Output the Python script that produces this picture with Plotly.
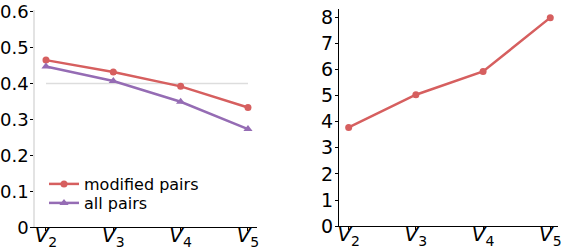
import plotly.graph_objects as go

categories = ["V2", "V3", "V4", "V5"]
tick_labels = ["<i>V</i><sub>2</sub>", "<i>V</i><sub>3</sub>", "<i>V</i><sub>4</sub>", "<i>V</i><sub>5</sub>"]
modified_pairs = [0.465, 0.432, 0.392, 0.333]
all_pairs = [0.447, 0.407, 0.349, 0.273]
reference_level = [0.4, 0.4, 0.4, 0.4]
right_values = [3.78, 5.03, 5.92, 7.98]
left_yticks = [0, 0.1, 0.2, 0.3, 0.4, 0.5, 0.6]
left_yticklabels = ["0", "0.1", "0.2", "0.3", "0.4", "0.5", "0.6"]
right_yticks = [0, 1, 2, 3, 4, 5, 6, 7, 8]

RED = "#d65f5f"
PURPLE = "#956cb4"
W, H = 562, 248
xs = list(range(len(categories)))

fig = go.Figure()
fig.add_trace(go.Scatter(x=xs, y=reference_level, mode="lines",
                         line=dict(color="#dddddd", width=1.5), showlegend=False,
                         xaxis="x", yaxis="y", hoverinfo="skip"))
fig.add_trace(go.Scatter(x=xs, y=modified_pairs, mode="lines+markers", name="modified pairs",
                         line=dict(color=RED, width=2.5), marker=dict(symbol="circle", size=7, color=RED),
                         xaxis="x", yaxis="y", legend="legend"))
fig.add_trace(go.Scatter(x=xs, y=all_pairs, mode="lines+markers", name="all pairs",
                         line=dict(color=PURPLE, width=2.5), marker=dict(symbol="triangle-up", size=8, color=PURPLE),
                         xaxis="x", yaxis="y", legend="legend2"))
fig.add_trace(go.Scatter(x=xs, y=right_values, mode="lines+markers", showlegend=False,
                         line=dict(color=RED, width=2.5), marker=dict(symbol="circle", size=7, color=RED),
                         xaxis="x2", yaxis="y2"))

yfont = dict(family="DejaVu Sans", size=18, color="black")
xfont = dict(family="DejaVu Sans", size=20, color="black")
lfont = dict(family="DejaVu Sans", size=16, color="black")
ydom = [1 - 227.2 / H, 1 - 10 / H]
ydom2 = [1 - 226.2 / H, 1 - 9 / H]

common = dict(showgrid=False, zeroline=False, ticks="outside", ticklen=3, tickcolor="black",
              automargin=False)

fig.update_layout(
    width=W, height=H,
    margin=dict(l=0, r=0, t=0, b=0, autoexpand=False),
    paper_bgcolor="white", plot_bgcolor="white",
    font=yfont,
    hovermode=False,
    xaxis=dict(domain=[35 / W, 257 / W], range=[-0.163, 3.134], tickvals=xs, ticktext=tick_labels,
               showline=True, linecolor="black", linewidth=1.2, anchor="y", tickfont=xfont,
               ticklabelstandoff=-13, **common),
    yaxis=dict(domain=ydom, range=[0, 0.6045], tickvals=left_yticks, ticktext=left_yticklabels,
               showline=True, linecolor="#e3e3e3", linewidth=1.5, anchor="x", tickfont=yfont,
               ticklabelstandoff=-2, **common),
    xaxis2=dict(domain=[339 / W, 558 / W], range=[-0.144, 3.115], tickvals=xs, ticktext=tick_labels,
                showline=True, linecolor="black", linewidth=1.2, anchor="y2", tickfont=xfont,
                ticklabelstandoff=-13, **common),
    yaxis2=dict(domain=ydom2, range=[0, 8.31], tickvals=right_yticks,
                showline=True, linecolor="black", linewidth=1.2, anchor="x2", tickfont=dict(yfont, size=19),
                ticklabelstandoff=-2, **common),
    legend=dict(x=44 / W, y=1 - 167 / H, xanchor="left", yanchor="top",
                bgcolor="rgba(0,0,0,0)", font=lfont, itemwidth=30),
    legend2=dict(x=44 / W, y=1 - 186 / H, xanchor="left", yanchor="top",
                 bgcolor="rgba(0,0,0,0)", font=lfont, itemwidth=30),
)

fig.write_html("out.html", config={"displayModeBar": False},
               post_script="document.body.style.margin='0';")
